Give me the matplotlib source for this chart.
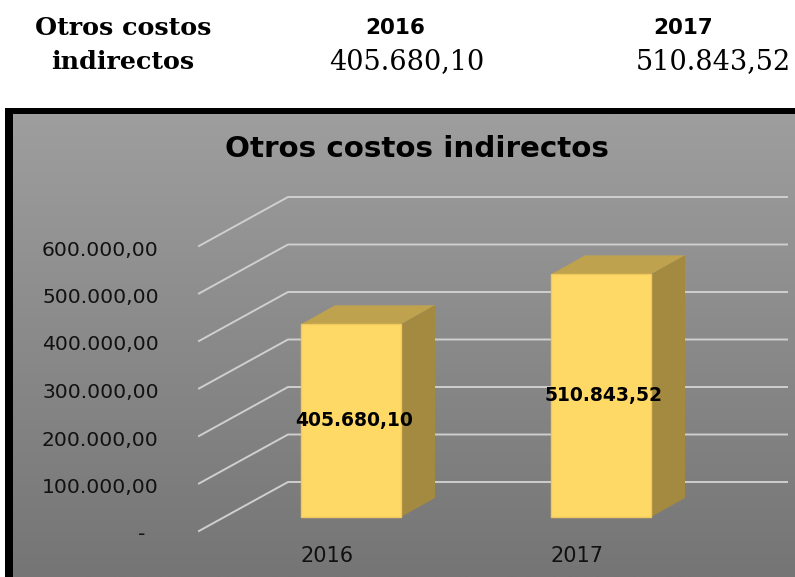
import matplotlib
matplotlib.use('Agg')
import matplotlib.pyplot as plt
from matplotlib.patches import Polygon, Rectangle
from matplotlib.transforms import ScaledTranslation
import numpy as np

years = ['2016', '2017']
values = [405680.10, 510843.52]
value_labels = ['405.680,10', '510.843,52']
y_ticks = [0, 100000, 200000, 300000, 400000, 500000, 600000]
y_labels = ['-  ', '100.000,00', '200.000,00', '300.000,00', '400.000,00', '500.000,00', '600.000,00']
title = 'Otros costos indirectos'

W, H = 795, 577
PX_PER_CAT = 250
PX_PER_VAL = 47.5 / 100000
BAR_W = 0.4


def fx(px):
    return px / PX_PER_CAT


def fy(px):
    return px / PX_PER_VAL


def add_bar(ax, pos, val):
    # front face sits a bit behind the axis plane
    left = pos + fx(24) - BAR_W / 2
    right = left + BAR_W
    base = fy(14)
    top = base + val
    dx, dy = fx(34), fy(19)
    ax.add_patch(Polygon([(left, top), (right, top), (right + dx, top + dy), (left + dx, top + dy)],
                         fc='#BFA24D', ec='none', zorder=3, clip_on=False))
    ax.add_patch(Polygon([(right, base), (right + dx, base + dy), (right + dx, top + dy), (right, top)],
                         fc='#A38A40', ec='none', zorder=3, clip_on=False))
    ax.add_patch(Rectangle((left, base), BAR_W, val, fc='#FFD966', ec='#F0C95E', lw=1, zorder=4, clip_on=False))
    return (left + right) / 2, base + val / 2


fig = plt.figure(figsize=(W / 100, H / 100), dpi=100)

# page background, black frame and grey gradient
bg = fig.add_axes([0, 0, 1, 1])
bg.set_xlim(0, W)
bg.set_ylim(H, 0)
bg.axis('off')
bg.add_patch(Rectangle((5, 108), W - 5, H - 108, fc='black', ec='none'))
grad = np.linspace(0, 1, 256).reshape(-1, 1)
bg.imshow(grad, extent=(13, W, H, 114), aspect='auto', cmap=matplotlib.colors.LinearSegmentedColormap.from_list('g', ['#9E9E9E', '#757575']), zorder=2)
bg.set_xlim(0, W)
bg.set_ylim(H, 0)

# small table above the chart
serif = 'DejaVu Serif'
bg.text(123, 28, 'Otros costos', family=serif, weight='bold', fontsize=18.3, ha='center', va='center')
bg.text(123, 62, 'indirectos', family=serif, weight='bold', fontsize=18.3, ha='center', va='center')
bg.text(395, 28, years[0], family='DejaVu Sans', weight='bold', fontsize=15.5, ha='center', va='center')
bg.text(683, 28, years[1], family='DejaVu Sans', weight='bold', fontsize=15.5, ha='center', va='center')
bg.text(406.5, 62, value_labels[0], family=serif, fontsize=19.5, ha='center', va='center')
bg.text(713.5, 62, value_labels[1], family=serif, fontsize=19.5, ha='center', va='center')
bg.text(417, 149, title, family='DejaVu Sans', weight='bold', fontsize=21.2, ha='center', va='center', zorder=5)

# chart axes: front plane of the 3d box
ax = fig.add_axes([199 / W, 1 - 531 / H, (W - 199) / W, (531 - 197) / H])
ax.patch.set_alpha(0)
ax.set_xlim(-(327 - 199) / PX_PER_CAT, (W - 327) / PX_PER_CAT)
ax.set_ylim(0, (531 - 197) / PX_PER_VAL)
for s in ax.spines.values():
    s.set_visible(False)

depth_x, depth_y = fx(89), fy(49)
x0 = ax.get_xlim()[0]
x_end = x0 + fx(787 - 199)
for t in y_ticks:
    ax.plot([x0, x0 + depth_x, x_end], [t, t + depth_y, t + depth_y], color='#CFCFCF', lw=1.4, zorder=1, clip_on=False)

ax.set_yticks(y_ticks)
ax.set_yticklabels(y_labels, fontsize=14.6, color='#111111')
ax.set_xticks(range(len(years)))
ax.set_xticklabels(years, fontsize=15, color='#111111')
ax.tick_params(axis='y', length=0, pad=29)
ax.tick_params(axis='x', length=0, pad=11)
# labels sit about 2 px under the line start in the original
for lab in ax.get_yticklabels():
    lab.set_transform(lab.get_transform() + ScaledTranslation(0, -2 / 100, fig.dpi_scale_trans))

for i, v in enumerate(values):
    cx, cy = add_bar(ax, i, v)
    ax.text(cx + fx(3), cy, value_labels[i], fontsize=13.5, weight='bold', ha='center', va='center', zorder=6, color='black')

fig.savefig('out.png', dpi=100)
